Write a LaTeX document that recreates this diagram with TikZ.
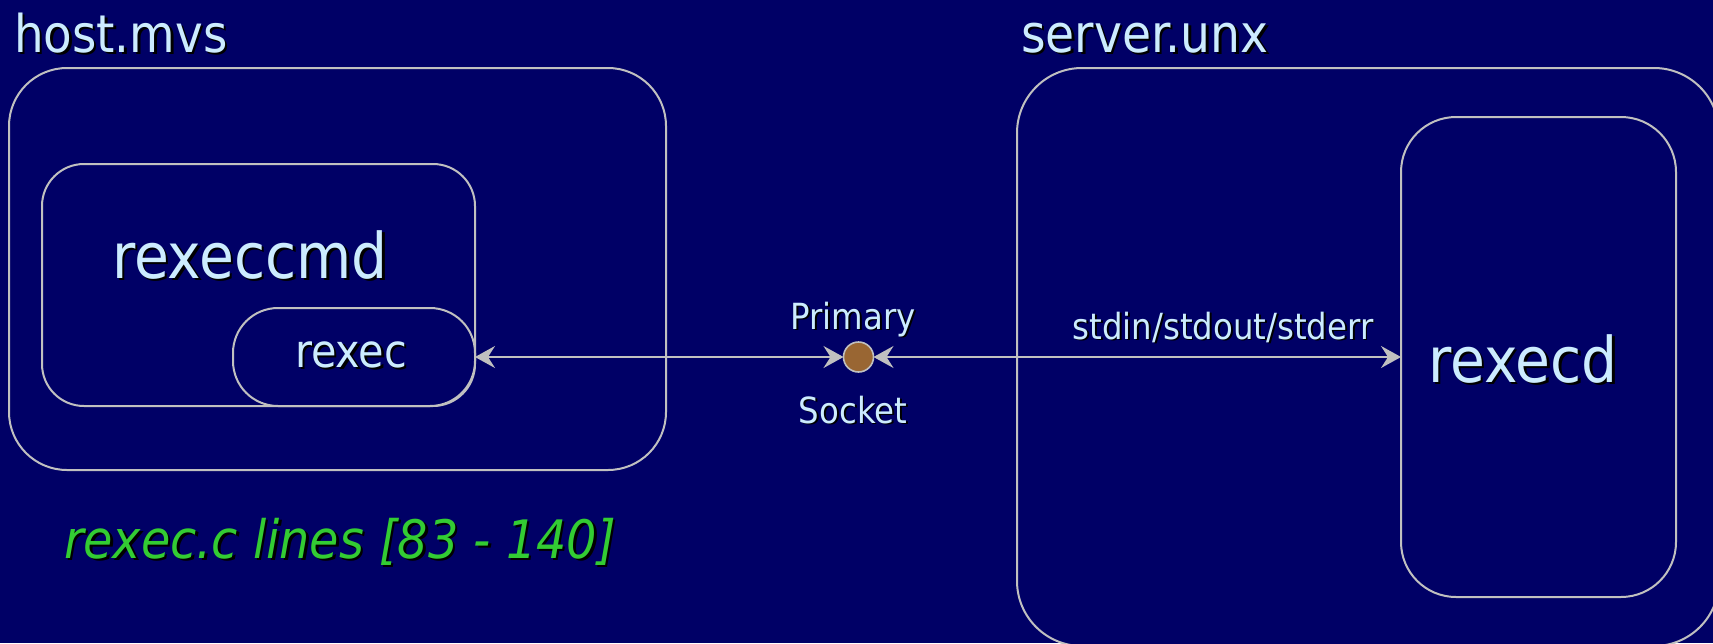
\documentclass[tikz,border=0pt]{standalone}
\usepackage{fontspec}
\setmainfont{DejaVu Sans Condensed}
\usetikzlibrary{arrows.meta}

\definecolor{slidebg}{HTML}{000066}
\definecolor{labeltext}{HTML}{CCECFF}
\definecolor{frameline}{HTML}{C0C0C0}
\definecolor{notegreen}{HTML}{33CC33}
\definecolor{socketfill}{HTML}{996633}

% text with a black drop shadow offset down and to the right
\newcommand\dropshadowed[2][2.5pt]{\makebox[0pt][l]{\hspace{#1}\raisebox{-#1}{\color{black}#2}}#2}

\begin{document}
\begin{tikzpicture}[x=1pt,y=-1pt,
  frame/.style={rectangle, draw=frameline, line width=2pt, fill=slidebg,
                inner sep=0pt, outer sep=0pt},
  lbl/.style={text=labeltext, inner sep=0pt, outer sep=0pt},
  tip/.tip={Stealth[length=20pt,width=22pt,inset=7pt]},
  conn/.style={draw=frameline, line width=2pt, tip-tip},
]
% slide background and page size
\fill[slidebg] (0,0) rectangle (1713,643);
\useasboundingbox (0,0) rectangle (1713,643);

% host side
\node[frame, minimum width=657pt, minimum height=402pt, rounded corners=58pt]
  (hostbox) at (337.5,269) {};
\node[frame, minimum width=433pt, minimum height=242pt, rounded corners=42pt]
  (cmdbox) at (258.5,285) {};
\node[frame, minimum width=242pt, minimum height=98pt, rounded corners=45pt]
  (rexecbox) at (354,357) {};

% server side (runs past the right and bottom edges)
\node[frame, minimum width=702pt, minimum height=578pt, rounded corners=65pt]
  (serverbox) at (1368,357) {};
\node[frame, minimum width=275pt, minimum height=480pt, rounded corners=55pt]
  (rexecdbox) at (1538.5,357) {};

% primary socket
\node[circle, draw=frameline, line width=1.6pt, fill=socketfill,
      minimum size=30pt, inner sep=0pt, outer sep=0pt] (sock) at (858.5,357) {};

% connections
\draw[conn] (rexecbox.east) -- (sock.west);
\draw[conn] (sock.east) -- (rexecdbox.west);

% labels
\node[lbl, anchor=base west, font=\fontsize{52}{60}\selectfont]
  (hostname) at (14,52) {\dropshadowed{host.mvs}};
\node[lbl, anchor=base west, font=\fontsize{52.5}{60}\selectfont]
  (servername) at (1021,52) {\dropshadowed{server.unx}};
\node[lbl, anchor=base, font=\fontsize{63}{70}\selectfont]
  (cmdname) at (250,278) {\dropshadowed{rexeccmd}};
\node[lbl, anchor=base, font=\fontsize{46}{52}\selectfont]
  (rexecname) at (351,367) {\dropshadowed{rexec}};
\node[lbl, anchor=base, font=\fontsize{63}{70}\selectfont]
  (rexecdname) at (1523,382) {\dropshadowed{rexecd}};
\node[lbl, anchor=base, font=\fontsize{36}{42}\selectfont]
  (primary) at (853,329) {\dropshadowed[1.8pt]{Primary}};
\node[lbl, anchor=base, font=\fontsize{36}{42}\selectfont]
  (socketname) at (853,423) {\dropshadowed[1.8pt]{Socket}};
\node[lbl, anchor=base, font=\fontsize{36}{42}\selectfont]
  (streams) at (1223,339) {\dropshadowed[1.8pt]{stdin/stdout/stderr}};
\node[lbl, text=notegreen, anchor=base west, font=\fontsize{53}{60}\selectfont\itshape]
  (srcnote) at (64,558) {\dropshadowed{rexec.c lines [83 - 140]}};
\end{tikzpicture}
\end{document}
